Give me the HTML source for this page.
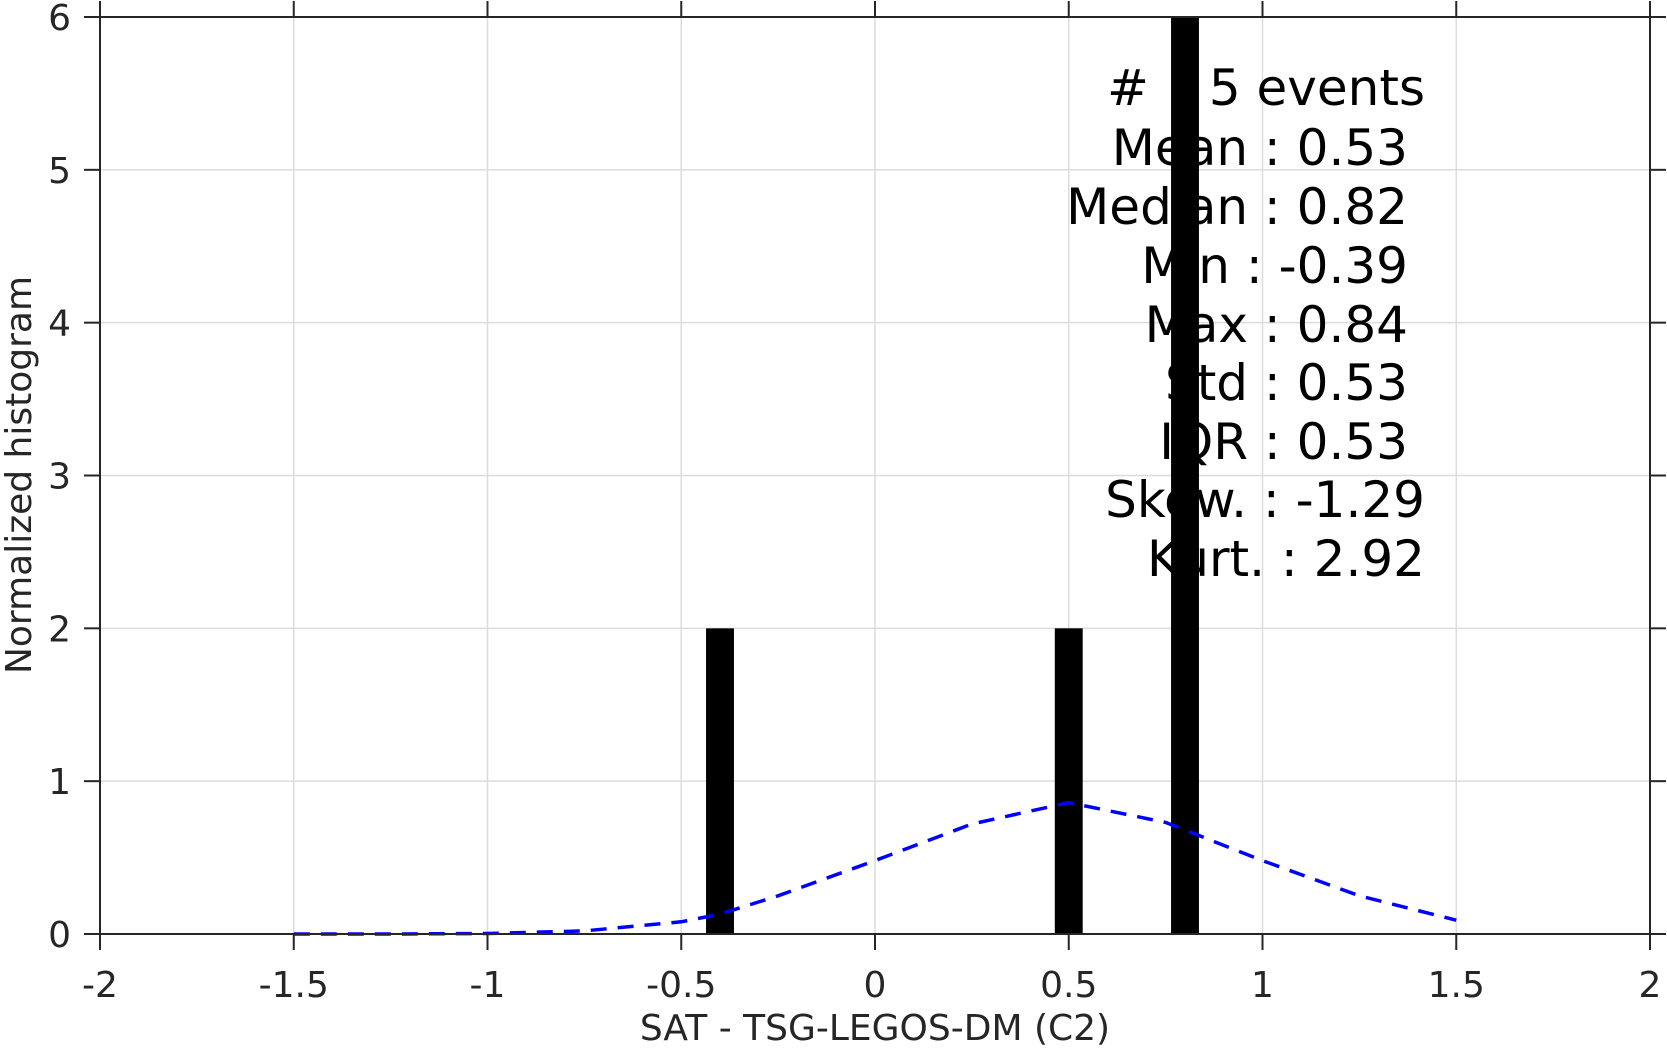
<!DOCTYPE html>
<html><head><meta charset="utf-8"><style>
html,body{margin:0;padding:0;background:#fff;}
svg{display:block;font-family:"DejaVu Sans","Liberation Sans",sans-serif;}
</style></head><body>
<svg id="chart" width="1667" height="1053" viewBox="0 0 1667 1053">
<g id="grid"></g>
<g id="stats" font-size="50" fill="#000">
<text x="1107" y="105">#</text>
<text x="1425" y="105" text-anchor="end">5 events</text>
<text x="1408" y="165" text-anchor="end">Mean : 0.53</text>
<text x="1408" y="224" text-anchor="end">Median : 0.82</text>
<text x="1408" y="283" text-anchor="end">Min : -0.39</text>
<text x="1408" y="342" text-anchor="end">Max : 0.84</text>
<text x="1408" y="400" text-anchor="end">Std : 0.53</text>
<text x="1408" y="459" text-anchor="end">IQR : 0.53</text>
<text x="1425" y="517" text-anchor="end">Skew. : -1.29</text>
<text x="1425" y="576" text-anchor="end">Kurt. : 2.92</text>
</g>
<g id="bars"></g>
<path id="fit" fill="none" stroke="#0000ff" stroke-width="3.5" stroke-dasharray="16,11"/>
<g id="axes"></g>
<text x="875" y="1040" text-anchor="middle" font-size="36" fill="#262626">SAT - TSG-LEGOS-DM (C2)</text>
<text transform="translate(31,475) rotate(-90)" text-anchor="middle" font-size="36" fill="#262626">Normalized histogram</text>
</svg>
<script>
const barCenters = [-0.40, 0.50, 0.80];
const barHeights = [2, 2, 6];
const barWidth = 0.072;
const fitX = [-1.5, -1.25, -1.0, -0.75, -0.5, -0.4, -0.25, 0.0, 0.25, 0.5, 0.75, 1.0, 1.25, 1.5];
const fitY = [0.0, 0.0, 0.003, 0.02, 0.08, 0.13, 0.25, 0.48, 0.72, 0.86, 0.73, 0.48, 0.25, 0.09];
const xTicks = [-2, -1.5, -1, -0.5, 0, 0.5, 1, 1.5, 2];
const xTickLabels = ["-2", "-1.5", "-1", "-0.5", "0", "0.5", "1", "1.5", "2"];
const yTicks = [0, 1, 2, 3, 4, 5, 6];
const yTickLabels = ["0", "1", "2", "3", "4", "5", "6"];

const L = 100, R = 1650, T = 17, B = 934;
const xMin = -2, xMax = 2, yMin = 0, yMax = 6;
const sx = v => L + (v - xMin) / (xMax - xMin) * (R - L);
const sy = v => B - (v - yMin) / (yMax - yMin) * (B - T);
const NS = "http://www.w3.org/2000/svg";
function mk(tag, attrs, parent) {
  const e = document.createElementNS(NS, tag);
  for (const k in attrs) e.setAttribute(k, attrs[k]);
  parent.appendChild(e);
  return e;
}
const grid = document.getElementById('grid');
const axes = document.getElementById('axes');
const bars = document.getElementById('bars');

xTicks.forEach((v, i) => {
  const x = sx(v);
  const g = mk('line', {x1: x, x2: x, y1: T, y2: B, stroke: '#dcdcdc', 'stroke-width': 1.5}, grid);
  
  
  const t1 = mk('line', {x1: x, x2: x, y1: B, y2: B + 16, stroke: '#262626', 'stroke-width': 2}, axes);
  
  
  const t2 = mk('line', {x1: x, x2: x, y1: T, y2: T - 16, stroke: '#262626', 'stroke-width': 2}, axes);
  
  
  const lb = mk('text', {x: x, y: 997, 'text-anchor': 'middle', 'font-size': 36, fill: '#262626'}, axes);
  lb.textContent = xTickLabels[i];
  
  
});
yTicks.forEach((v, i) => {
  const y = sy(v);
  const g = mk('line', {x1: L, x2: R, y1: y, y2: y, stroke: '#dcdcdc', 'stroke-width': 1.5}, grid);
  
  
  const t1 = mk('line', {x1: L - 16, x2: L, y1: y, y2: y, stroke: '#262626', 'stroke-width': 2}, axes);
  
  
  const t2 = mk('line', {x1: R, x2: R + 16, y1: y, y2: y, stroke: '#262626', 'stroke-width': 2}, axes);
  
  
  const lb = mk('text', {x: 71, y: y + 13, 'text-anchor': 'end', 'font-size': 36, fill: '#262626'}, axes);
  lb.textContent = yTickLabels[i];
  
  
});
const frame = mk('rect', {x: L, y: T, width: R - L, height: B - T, fill: 'none', stroke: '#262626', 'stroke-width': 2}, axes);



barCenters.forEach((c, i) => {
  const x0 = sx(c - barWidth / 2), x1 = sx(c + barWidth / 2);
  const r = mk('rect', {x: x0, y: sy(barHeights[i]), width: x1 - x0, height: sy(0) - sy(barHeights[i]), fill: '#000'}, bars);
  
  
});

document.getElementById('fit').setAttribute('d',
  fitX.map((v, i) => (i ? 'L' : 'M') + sx(v).toFixed(1) + ',' + sy(fitY[i]).toFixed(1)).join(' '));
</script>
</body></html>
